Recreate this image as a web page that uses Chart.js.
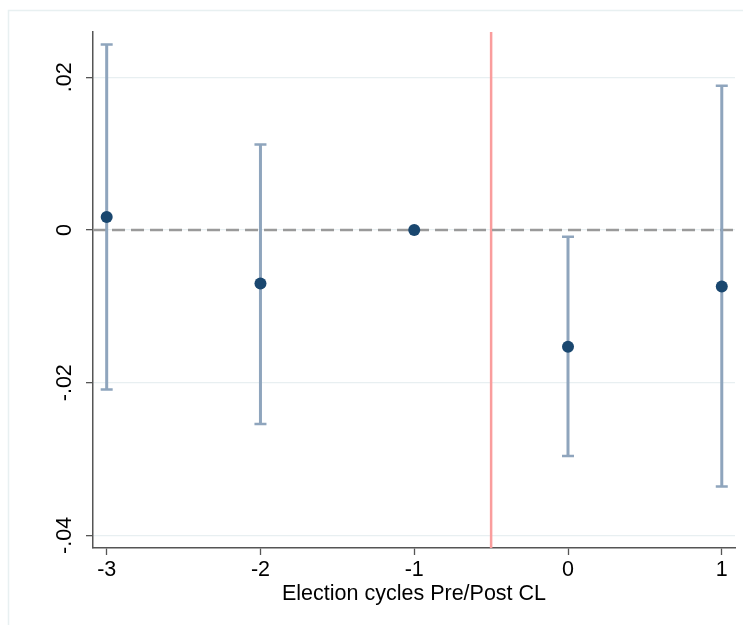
<!DOCTYPE html>
<html><head><meta charset="utf-8">
<script src="https://cdn.jsdelivr.net/npm/chart.js@4/dist/chart.umd.min.js"></script>
<style>html,body{margin:0;padding:0;background:#fff;} #wrap{width:743px;height:625px;position:relative;}</style>
</head><body><div id="wrap"><canvas id="c" width="743" height="625"></canvas></div>
<script>
// ---- data ----
const periods = [-3, -2, -1, 0, 1];
const coef    = [0.0017, -0.0070, 0, -0.0153, -0.0074];
const ciLow   = [-0.0209, -0.0254, null, -0.0296, -0.0336];
const ciHigh  = [0.0243, 0.0112, null, -0.0009, 0.0189];
const xTicks = [-3, -2, -1, 0, 1];
const xTickLabels = ['-3', '-2', '-1', '0', '1'];
const yTicks = [-0.04, -0.02, 0, 0.02];
const yTickLabels = ['-.04', '-.02', '0', '.02'];
const eventLine = -0.5;   // vertical red line
const refLine = 0;        // dashed horizontal line
const xTitle = 'Election cycles Pre/Post CL';

Chart.defaults.font.family = "'Liberation Sans', Arial, sans-serif";
Chart.defaults.color = '#000';

const decor = {
  id: 'decor',
  beforeDraw(chart) {
    const ctx = chart.ctx;
    ctx.save();
    ctx.fillStyle = '#fff';
    ctx.fillRect(0, 0, chart.width, chart.height);
    ctx.strokeStyle = '#e8f0f1';
    ctx.lineWidth = 1.5;
    ctx.strokeRect(8.5, 10.5, chart.width + 20, chart.height + 20);
    ctx.restore();
  },
  beforeDatasetsDraw(chart) {
    const ctx = chart.ctx, xs = chart.scales.x, ys = chart.scales.y, a = chart.chartArea;
    ctx.save();
    // vertical event line
    const xe = xs.getPixelForValue(eventLine);
    ctx.strokeStyle = '#fa9d9d';
    ctx.lineWidth = 2.5;
    ctx.beginPath(); ctx.moveTo(xe, a.top); ctx.lineTo(xe, a.bottom); ctx.stroke();
    // dashed zero line
    const y0 = ys.getPixelForValue(refLine);
    ctx.strokeStyle = '#9a9a9a';
    ctx.lineWidth = 2.5;
    ctx.setLineDash([13, 6]);
    ctx.beginPath(); ctx.moveTo(a.left, y0); ctx.lineTo(a.right, y0); ctx.stroke();
    ctx.setLineDash([]);
    // CI bars
    ctx.strokeStyle = '#8fa5bd';
    for (let i = 0; i < periods.length; i++) {
      if (ciLow[i] == null || ciHigh[i] == null) continue;
      const px = xs.getPixelForValue(periods[i]);
      const pl = ys.getPixelForValue(ciLow[i]);
      const ph = ys.getPixelForValue(ciHigh[i]);
      ctx.lineWidth = 3;
      ctx.beginPath(); ctx.moveTo(px, pl); ctx.lineTo(px, ph); ctx.stroke();
      ctx.lineWidth = 2.5;
      ctx.beginPath();
      ctx.moveTo(px - 6, pl); ctx.lineTo(px + 6, pl);
      ctx.moveTo(px - 6, ph); ctx.lineTo(px + 6, ph);
      ctx.stroke();
    }
    ctx.restore();
  }
};

new Chart(document.getElementById('c'), {
  type: 'scatter',
  data: {
    datasets: [{
      data: periods.map((p, i) => ({ x: p, y: coef[i] })),
      backgroundColor: '#1a476f',
      borderWidth: 0,
      pointRadius: 6,
      pointHoverRadius: 6
    }]
  },
  options: {
    responsive: false,
    animation: false,
    devicePixelRatio: 1,
    layout: { padding: { top: 32, right: 8, left: 0, bottom: 0 } },
    plugins: { legend: { display: false }, tooltip: { enabled: false } },
    scales: {
      x: {
        type: 'linear',
        position: 'bottom',
        min: -3.089, max: 1.086,
        afterBuildTicks: s => { s.ticks = xTicks.map(v => ({ value: v })); },
        afterFit: s => { s.height = 77; },
        ticks: {
          callback: (v, i) => xTickLabels[i],
          font: { size: 21.5 }, color: '#000', padding: 2, maxRotation: 0, minRotation: 0
        },
        grid: { drawOnChartArea: false, drawTicks: true, tickLength: 7, tickColor: '#555', tickWidth: 1.3 },
        border: { color: '#555', width: 1.5 },
        title: { display: true, text: xTitle, font: { size: 21.5 }, color: '#000', padding: { top: 0, bottom: 18 } }
      },
      y: {
        type: 'linear',
        min: -0.04165, max: 0.02593,
        afterBuildTicks: s => { s.ticks = yTicks.map(v => ({ value: v })); },
        afterFit: s => { s.width = 93; },
        ticks: {
          callback: (v, i) => yTickLabels[i],
          font: { size: 21.5 }, color: '#000', padding: 2,
          minRotation: 90, maxRotation: 90, crossAlign: 'center'
        },
        grid: { color: '#e8eff1', lineWidth: 1.3, drawTicks: true, tickLength: 7, tickColor: '#555', tickWidth: 1.3 },
        border: { color: '#555', width: 1.5 }
      }
    }
  },
  plugins: [decor]
});
</script>
</body></html>
